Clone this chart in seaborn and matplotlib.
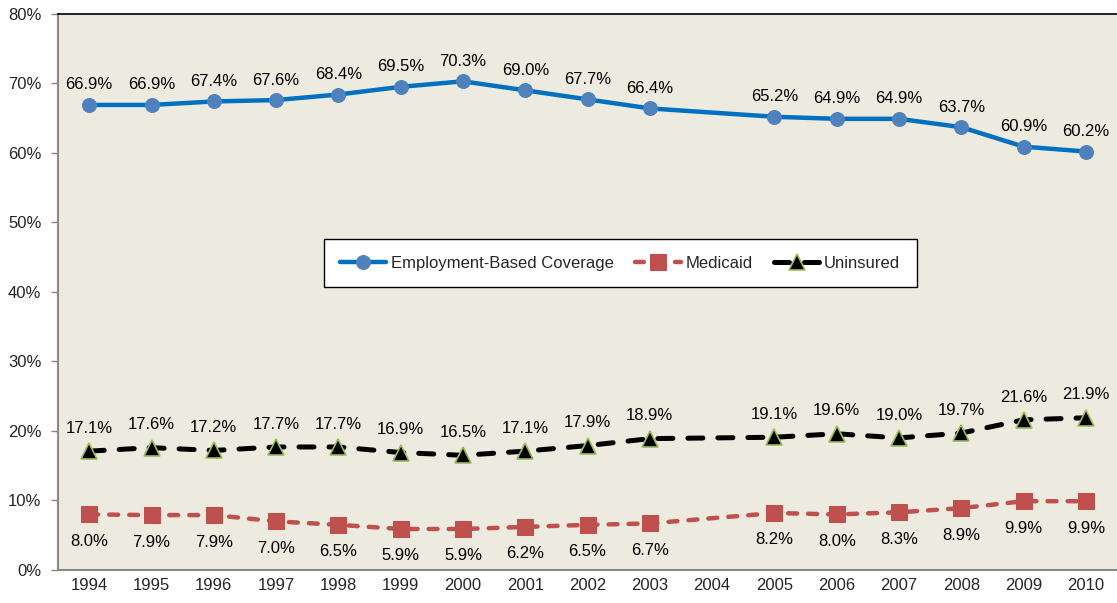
import matplotlib
matplotlib.use("Agg")
import matplotlib.pyplot as plt
import seaborn as sns
import numpy as np
import pandas as pd
from matplotlib.ticker import FuncFormatter

years = ["1994", "1995", "1996", "1997", "1998", "1999", "2000", "2001", "2002",
         "2003", "2004", "2005", "2006", "2007", "2008", "2009", "2010"]
employment = [66.9, 66.9, 67.4, 67.6, 68.4, 69.5, 70.3, 69.0, 67.7, 66.4, np.nan,
              65.2, 64.9, 64.9, 63.7, 60.9, 60.2]
medicaid = [8.0, 7.9, 7.9, 7.0, 6.5, 5.9, 5.9, 6.2, 6.5, 6.7, np.nan,
            8.2, 8.0, 8.3, 8.9, 9.9, 9.9]
uninsured = [17.1, 17.6, 17.2, 17.7, 17.7, 16.9, 16.5, 17.1, 17.9, 18.9, np.nan,
             19.1, 19.6, 19.0, 19.7, 21.6, 21.9]
yticks = [0, 10, 20, 30, 40, 50, 60, 70, 80]

sns.set_theme(style="white")
plt.rcParams["font.family"] = ["Liberation Sans", "DejaVu Sans"]

df = pd.DataFrame({"pos": np.arange(len(years)), "year": years,
                   "Employment-Based Coverage": employment,
                   "Medicaid": medicaid, "Uninsured": uninsured})

fig = plt.figure(figsize=(11.17, 6.03), dpi=100)
fig.patch.set_facecolor("white")
ax = fig.add_axes([0.052, 0.0547, 0.948, 0.9223])
ax.set_facecolor("#EDEAE0")

sns.lineplot(data=df, x="pos", y="Employment-Based Coverage", ax=ax,
             color="#0070C0", lw=3.2, marker="o", markersize=10,
             markerfacecolor="#4F81BD", markeredgecolor="#4F81BD",
             label="Employment-Based Coverage")
sns.lineplot(data=df, x="pos", y="Medicaid", ax=ax,
             color="#C0504D", lw=3.2, marker="s", markersize=11,
             markerfacecolor="#C0504D", markeredgecolor="#C0504D",
             dashes=(2.0, 2.5), label="Medicaid")
sns.lineplot(data=df, x="pos", y="Uninsured", ax=ax,
             color="black", lw=3.6, marker="^", markersize=11,
             markerfacecolor="black", markeredgecolor="#9BBB59", markeredgewidth=1.2,
             dashes=(3.0, 3.0), label="Uninsured")
for line in ax.lines:
    line.set_solid_capstyle("round")
    line.set_dash_capstyle("round")

fs = 12
for i, v in enumerate(employment):
    if not np.isnan(v):
        ax.annotate(f"{v:.1f}%", (i, v), xytext=(0, 9), textcoords="offset points",
                    ha="center", va="bottom", fontsize=fs, color="black")
for i, v in enumerate(uninsured):
    if not np.isnan(v):
        ax.annotate(f"{v:.1f}%", (i, v), xytext=(0, 11), textcoords="offset points",
                    ha="center", va="bottom", fontsize=fs, color="black")
for i, v in enumerate(medicaid):
    if not np.isnan(v):
        ax.annotate(f"{v:.1f}%", (i, v), xytext=(0, -14), textcoords="offset points",
                    ha="center", va="top", fontsize=fs, color="black")

ax.set_xlim(-0.5, len(years) - 0.5)
ax.set_ylim(0, 80)
ax.set_yticks(yticks)
ax.yaxis.set_major_formatter(FuncFormatter(lambda v, p: f"{v:.0f}%"))
ax.set_xticks(np.arange(len(years)))
ax.set_xticklabels(years)
ax.set_xticks(np.arange(len(years) + 1) - 0.5, minor=True)
ax.tick_params(axis="x", which="major", length=0, labelsize=fs, pad=6)
ax.tick_params(axis="x", which="minor", length=5, width=1, color="#888888", direction="out")
ax.tick_params(axis="y", length=5, width=1, color="#888888", labelsize=fs, direction="out",
               left=True, pad=7)
ax.set_xlabel("")
ax.set_ylabel("")

for s in ["left", "bottom"]:
    ax.spines[s].set_color("#888888")
    ax.spines[s].set_linewidth(1.5)
ax.spines["top"].set_color("black")
ax.spines["top"].set_linewidth(1.2)
ax.spines["right"].set_visible(False)

leg = ax.legend(loc="center", bbox_to_anchor=(0.531, 0.552), ncol=3, fontsize=fs,
                frameon=True, fancybox=False, edgecolor="black", facecolor="white",
                framealpha=1, handlelength=2.76, handletextpad=0.25, columnspacing=1.3,
                borderpad=1.0)
leg.get_frame().set_linewidth(1.0)

fig.savefig("out.png", dpi=100)
